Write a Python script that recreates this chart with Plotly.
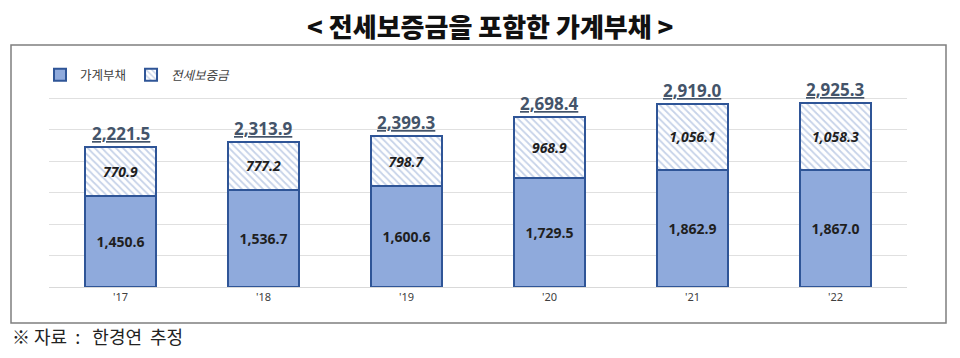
import plotly.graph_objects as go

years = ["'17", "'18", "'19", "'20", "'21", "'22"]
household_debt = [1450.6, 1536.7, 1600.6, 1729.5, 1862.9, 1867.0]
jeonse_deposit = [770.9, 777.2, 798.7, 968.9, 1056.1, 1058.3]
totals = [2221.5, 2313.9, 2399.3, 2698.4, 2919.0, 2925.3]

W, H = 960, 358
L, R, T, B = 49, 53, 67, 71
pw = W - L - R
ph = H - T - B

def px_x(x):
    return (x - L) / pw

def px_y(y):
    return (H - B - y) / ph

edge = "#2F5597"
fig = go.Figure()
fig.add_trace(go.Bar(
    x=years, y=household_debt, name="가계부채", width=0.49,
    marker=dict(color="#8FAADC", line=dict(color=edge, width=2)),
    text=[f"<b>{v:,.1f}</b>" for v in household_debt],
    textposition="inside", insidetextanchor="middle", constraintext="none",
    textfont=dict(family="Open Sans", size=14, color="#1F1F1F"),
    hoverinfo="skip",
))
fig.add_trace(go.Bar(
    x=years, y=jeonse_deposit, name="<i>전세보증금</i>", width=0.49,
    marker=dict(color="white", line=dict(color=edge, width=2),
                pattern=dict(shape="\\", fgcolor="#8EA6D2", bgcolor="white",
                             size=5, solidity=0.35)),
    text=[f"<b><i>{v:,.1f}</i></b>" for v in jeonse_deposit],
    textposition="inside", insidetextanchor="middle", constraintext="none",
    textfont=dict(family="Open Sans", size=14, color="#1F1F1F"),
    hoverinfo="skip",
))

for x, t in zip(years, totals):
    fig.add_annotation(x=x, y=t, text=f"<b><u>{t:,.1f}</u></b>", showarrow=False,
                       yanchor="bottom", yshift=0,
                       font=dict(family="Open Sans", size=17, color="#44546A"))

fig.add_annotation(xref="paper", yref="paper", x=px_x(490), y=px_y(25),
                   text="&lt; 전세보증금을 포함한 가계부채 &gt;", showarrow=False,
                   xanchor="center", yanchor="middle",
                   font=dict(family="Noto Sans CJK KR", size=26, color="#111111", weight=900))

fig.add_annotation(xref="paper", yref="paper", x=px_x(10), y=px_y(336),
                   text="※ 자료\u00a0 :\u00a0\u00a0 한경연\u00a0 추정", showarrow=False,
                   xanchor="left", yanchor="middle",
                   font=dict(family="Noto Sans CJK KR", size=18, color="#222222"))

fig.add_shape(type="rect", xref="paper", yref="paper",
              x0=px_x(11), x1=px_x(946), y0=px_y(323), y1=px_y(45),
              line=dict(color="#7F7F7F", width=1.5), fillcolor="rgba(0,0,0,0)", layer="below")

fig.update_layout(
    width=W, height=H, margin=dict(l=L, r=R, t=T, b=B),
    barmode="stack", plot_bgcolor="white", paper_bgcolor="white",
    showlegend=True,
    legend=dict(orientation="h", x=px_x(40), y=px_y(75), xanchor="left", yanchor="middle",
                traceorder="normal", font=dict(family="Noto Sans CJK KR", size=12.5, color="#404040"),
                bgcolor="rgba(0,0,0,0)", itemwidth=30),
    xaxis=dict(showgrid=False, showline=True, linecolor="#D9D9D9", linewidth=1,
               tickfont=dict(family="Noto Sans", size=11, color="#404040"), ticks=""),
    yaxis=dict(range=[0, 3500], dtick=500, showgrid=True, gridcolor="#E0E0E0", gridwidth=1,
               showticklabels=False, zeroline=False),
)

fig.write_html("out.html", config={"displayModeBar": False},
               post_script="document.body.style.margin='0';")
